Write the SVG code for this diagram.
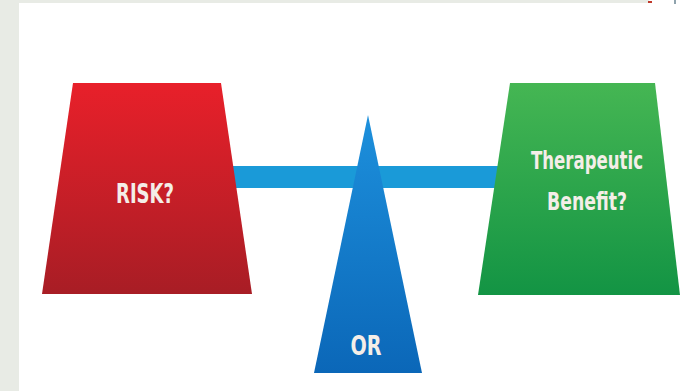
<svg xmlns="http://www.w3.org/2000/svg" width="682" height="391" viewBox="0 0 682 391">
<defs>
<linearGradient id="gRed" x1="0" y1="0" x2="0" y2="1"><stop offset="0" stop-color="#e8202a"/><stop offset="1" stop-color="#a81d25"/></linearGradient>
<linearGradient id="gGreen" x1="0" y1="0" x2="0" y2="1"><stop offset="0" stop-color="#45b653"/><stop offset="1" stop-color="#139444"/></linearGradient>
<linearGradient id="gBlue" x1="0" y1="0" x2="0" y2="1"><stop offset="0" stop-color="#1d90dc"/><stop offset="1" stop-color="#0b67b8"/></linearGradient>
<style>
.lbl{font-family:"DejaVu Sans","Liberation Sans",sans-serif;font-stretch:condensed;font-weight:bold;fill:#f4eee8;text-anchor:middle}
</style>
</defs>
<rect x="0" y="0" width="682" height="391" fill="#ffffff"/>
<rect x="0" y="0" width="19" height="391" fill="#e8ebe5"/>
<rect x="19" y="0" width="630" height="3" fill="#e8ebe5"/>
<rect x="648" y="1" width="4" height="2" fill="#c0392b"/>
<rect x="674" y="0" width="2" height="4" fill="#8fa3ad"/>
<g id="connectors">
<rect x="232" y="166" width="270" height="22" fill="#1a9ad8"/>
</g>
<g id="risk">
<polygon points="73,83 221,83 252,294 42,294" fill="url(#gRed)"/>
<text class="lbl" x="145" y="203" font-size="27" textLength="58" lengthAdjust="spacingAndGlyphs">RISK?</text>
</g>
<g id="fulcrum">
<polygon points="368,115 422,373 314,373" fill="url(#gBlue)"/>
<text class="lbl" x="366" y="355" font-size="27" textLength="31" lengthAdjust="spacingAndGlyphs">OR</text>
</g>
<g id="benefit">
<polygon points="510,83 655,83 680,295 478,295" fill="url(#gGreen)"/>
<text class="lbl" x="587" y="169" font-size="24" textLength="112" lengthAdjust="spacingAndGlyphs">Therapeutic</text>
<text class="lbl" x="587" y="210" font-size="25" textLength="80" lengthAdjust="spacingAndGlyphs">Benefit?</text>
</g>
</svg>
